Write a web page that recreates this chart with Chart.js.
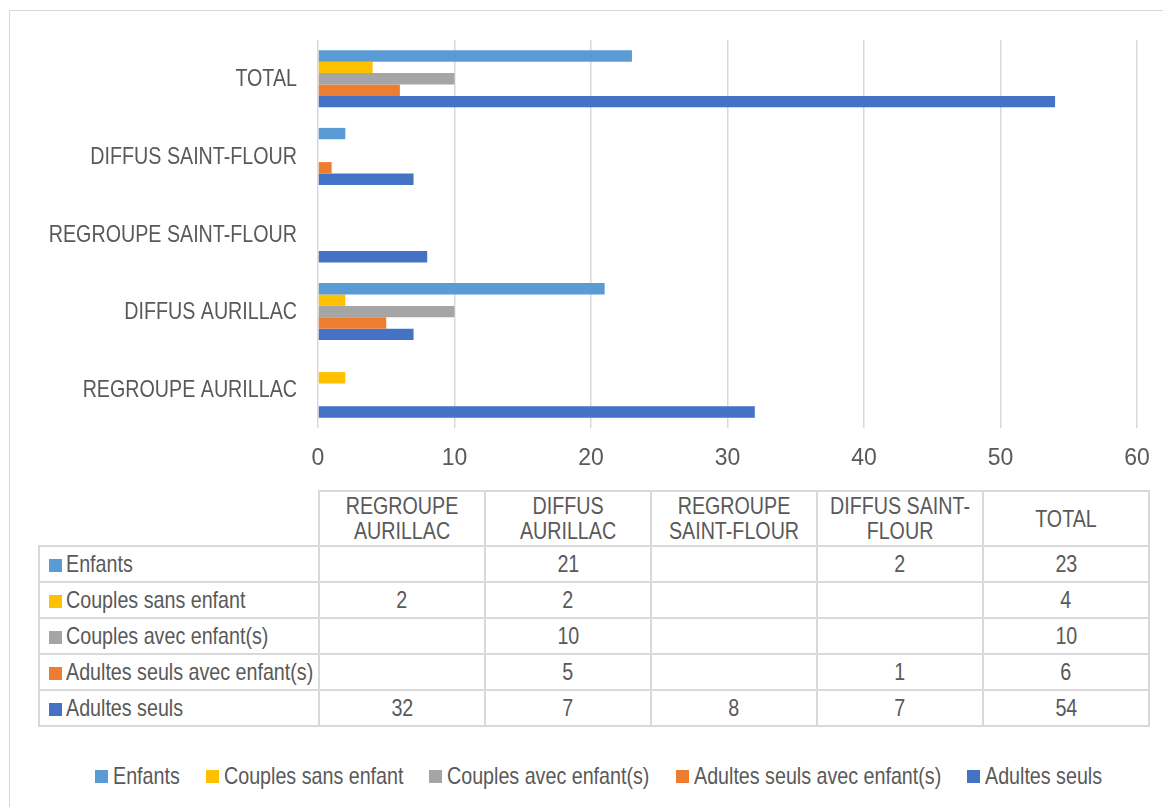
<!DOCTYPE html>
<html>
<head>
<meta charset="utf-8">
<script src="https://cdn.jsdelivr.net/npm/chart.js@4.4.1/dist/chart.umd.min.js"></script>
<style>
  html, body { margin: 0; padding: 0; background: #fff; }
  body { width: 1163px; height: 807px; position: relative; overflow: hidden;
         font-family: 'Liberation Sans', Arial, sans-serif; color: #595959; }
  #frame { position: absolute; left: 9px; top: 10px; width: 1170px; height: 820px; border: 1px solid #d9d9d9; box-sizing: border-box; }
  #wrap { position: absolute; left: 0; top: 0; width: 1163px; height: 480px; }
  table { position: absolute; left: 38px; top: 490px; width: 1110px; border-collapse: collapse; font-size: 24px; table-layout: fixed; }
  td { border: 2px solid #d9d9d9; padding: 0; text-align: center; height: 34px; line-height: 26px; overflow: visible; }
  td.corner { border: none; }
  td.head { height: 53px; line-height: 25px; position: relative; }
  td.head .hw { position: absolute; left: 50%; top: 50%; width: 202px; transform: translate(-50%, -52%) scaleX(0.82); text-align: center; }
  td.name { text-align: left; padding-left: 9px; white-space: nowrap; }
  .n { display: inline-block; transform: scaleX(0.82); transform-origin: left center; white-space: nowrap; }
  .c { display: inline-block; transform: scaleX(0.82); transform-origin: center; }
  .sw { display: inline-block; width: 13px; height: 13px; margin-right: 4px; vertical-align: 0px; }
  #legend { position: absolute; left: 95px; top: 762px; display: flex; font-size: 24px; white-space: nowrap; }
  #legend .it { display: flex; align-items: center; margin-right: 26px; }
  #legend .sq { width: 13px; height: 13px; margin-right: 5px; flex: none; }
  #legend .tw { overflow: visible; }
</style>
</head>
<body>
<div id="frame"></div>
<div id="wrap"><canvas id="c"></canvas></div>
<table id="tbl"></table>
<div id="legend"></div>
<script>
const categories = ['REGROUPE AURILLAC', 'DIFFUS AURILLAC', 'REGROUPE SAINT-FLOUR', 'DIFFUS SAINT-FLOUR', 'TOTAL'];
const seriesNames = ['Enfants', 'Couples sans enfant', 'Couples avec enfant(s)', 'Adultes seuls avec enfant(s)', 'Adultes seuls'];
const enfants = [null, 21, null, 2, 23];
const couplesSansEnfant = [2, 2, null, null, 4];
const couplesAvecEnfants = [null, 10, null, null, 10];
const adultesSeulsAvecEnfants = [null, 5, null, 1, 6];
const adultesSeuls = [32, 7, 8, 7, 54];
const xTicks = [0, 10, 20, 30, 40, 50, 60];
const colors = ['#5B9BD5', '#FFC000', '#A5A5A5', '#ED7D31', '#4472C4'];

const seriesValues = [enfants, couplesSansEnfant, couplesAvecEnfants, adultesSeulsAvecEnfants, adultesSeuls];
const FONT = "'Liberation Sans', Arial, sans-serif";
const TXT = '#595959';
const NARROW = 0.82;

const datasets = seriesNames.map((n, i) => ({
  label: n, data: seriesValues[i], backgroundColor: colors[i], borderWidth: 0,
  barPercentage: 1.0, categoryPercentage: 0.735
}));

// Draw category labels in a condensed style (Arial Narrow look)
const yLabelPlugin = {
  id: 'yLabels',
  afterDraw(chart) {
    const s = chart.scales.y;
    const ctx = chart.ctx;
    ctx.save();
    ctx.font = '24px ' + FONT;
    ctx.fillStyle = TXT;
    ctx.textAlign = 'right';
    ctx.textBaseline = 'middle';
    s.ticks.forEach((t, i) => {
      const y = s.getPixelForTick(i);
      ctx.save();
      ctx.translate(s.right - 21, y + 1);
      ctx.scale(NARROW, 1);
      ctx.fillText(chart.data.labels[t.value], 0, 0);
      ctx.restore();
    });
    ctx.restore();
  }
};

new Chart(document.getElementById('c'), {
  type: 'bar',
  data: { labels: categories, datasets },
  plugins: [yLabelPlugin],
  options: {
    indexAxis: 'y',
    responsive: true,
    maintainAspectRatio: false,
    animation: false,
    layout: { padding: { top: 40, right: 26, left: 0, bottom: 0 } },
    plugins: { legend: { display: false }, tooltip: { enabled: false } },
    scales: {
      x: {
        min: 0, max: 60,
        afterBuildTicks: s => { s.ticks = xTicks.map(v => ({ value: v })); },
        afterFit: s => { s.height = 52; s.paddingLeft = 0; s.paddingRight = 0; },
        grid: { color: '#d9d9d9', lineWidth: 1.5, drawTicks: false },
        border: { display: false },
        ticks: { padding: 17, color: TXT, font: { family: FONT, size: 23 }, maxRotation: 0 }
      },
      y: {
        reverse: true,
        afterFit: s => { s.width = 318; },
        grid: { display: false, drawTicks: false },
        border: { display: false },
        ticks: { display: false }
      }
    }
  }
});

// Data table
const tbl = document.getElementById('tbl');
let html = '<colgroup><col style="width:280px">' + categories.map(() => '<col style="width:166px">').join('') + '</colgroup>';
html += '<tr><td class="corner"></td>' + categories.map(c => '<td class="head"><div class="hw">' + c + '</div></td>').join('') + '</tr>';
seriesNames.forEach((n, i) => {
  html += '<tr><td class="name"><span class="sw" style="background:' + colors[i] + '"></span><span class="n">' + n + '</span></td>' +
    seriesValues[i].map(v => '<td><span class="c">' + (v === null ? '' : v) + '</span></td>').join('') + '</tr>';
});
tbl.innerHTML = html;

// Legend
const leg = document.getElementById('legend');
leg.innerHTML = seriesNames.map((n, i) =>
  '<div class="it"><div class="sq" style="background:' + colors[i] + '"></div><div class="tw"><span class="n">' + n + '</span></div></div>').join('');
leg.querySelectorAll('.tw').forEach(el => {
  const w = el.firstChild.getBoundingClientRect().width; // already scaled width
  el.style.width = w + 'px';
});
</script>
</body>
</html>
